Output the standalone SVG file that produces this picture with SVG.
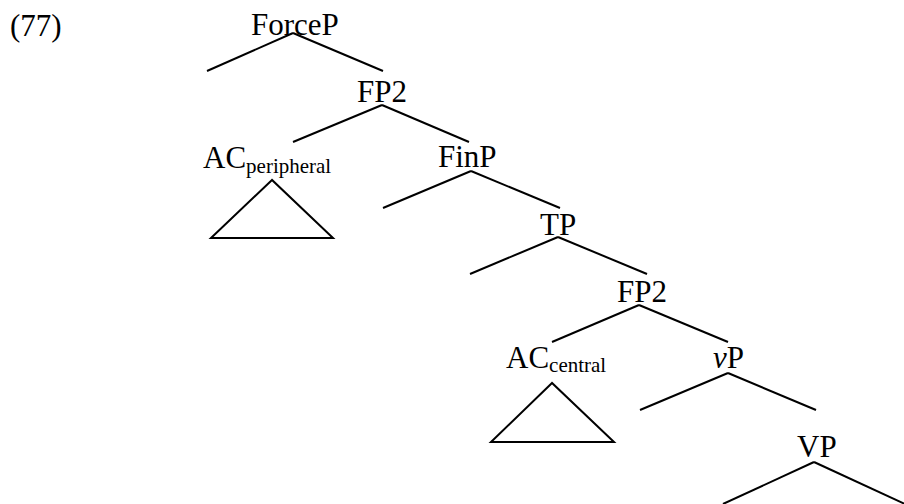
<svg xmlns="http://www.w3.org/2000/svg" width="904" height="504" viewBox="0 0 904 504">
<style>
text{font-family:"Liberation Serif","Times New Roman",serif;font-size:31px;fill:#000}
.sub{font-size:21px}
line,polygon{stroke:#000;stroke-width:2;fill:none}
</style>
<rect width="904" height="504" fill="#fff"/>
<text x="10" y="36">(77)</text>
<g id="ForceP"><text x="251" y="35">ForceP</text></g>
<g id="FP2a"><text x="357" y="102">FP2</text></g>
<g id="ACperipheral"><text x="203" y="168">AC<tspan class="sub" dy="5">peripheral</tspan></text>
<polygon points="272,180 211,238 333,238"/></g>
<g id="FinP"><text x="438" y="167">FinP</text></g>
<g id="TP"><text x="540" y="235">TP</text></g>
<g id="FP2b"><text x="617" y="302">FP2</text></g>
<g id="ACcentral"><text x="506" y="368">AC<tspan class="sub" dy="4">central</tspan></text>
<polygon points="552,383 491,442 614,442"/></g>
<g id="vP"><text x="713" y="368"><tspan font-style="italic">v</tspan>P</text></g>
<g id="VP"><text x="797" y="457">VP</text></g>
<g id="connectors">
<line x1="293" y1="33" x2="207" y2="71"/>
<line x1="293" y1="33" x2="383" y2="71"/>
<line x1="382" y1="105" x2="293" y2="142"/>
<line x1="382" y1="105" x2="469" y2="142"/>
<line x1="471" y1="171" x2="383" y2="208"/>
<line x1="471" y1="171" x2="560" y2="208"/>
<line x1="558" y1="237" x2="470" y2="274"/>
<line x1="558" y1="237" x2="647" y2="274"/>
<line x1="639" y1="305" x2="552" y2="342"/>
<line x1="639" y1="305" x2="728" y2="342"/>
<line x1="728" y1="373" x2="640" y2="410"/>
<line x1="728" y1="373" x2="816" y2="410"/>
<line x1="814" y1="462" x2="723" y2="504"/>
<line x1="814" y1="462" x2="905" y2="504"/>
</g>
</svg>
